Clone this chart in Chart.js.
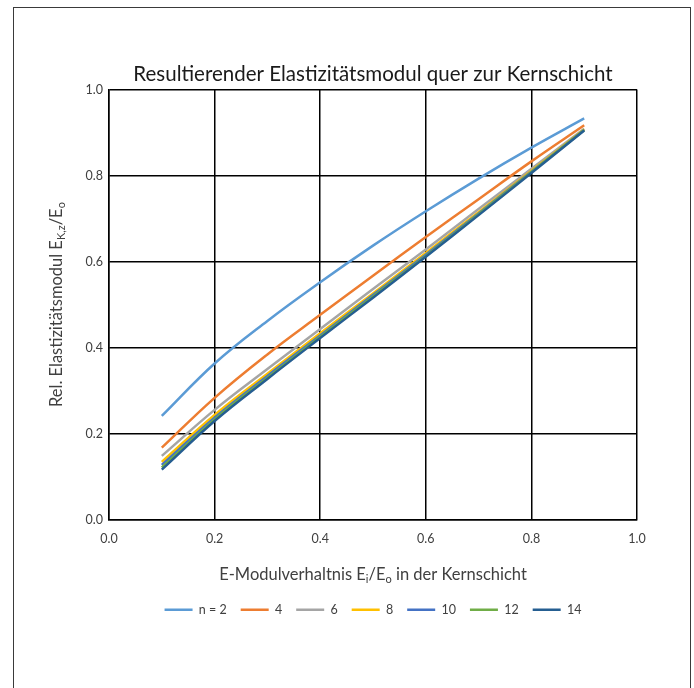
<!DOCTYPE html>
<html>
<head>
<meta charset="utf-8">
<script src="https://cdn.jsdelivr.net/npm/chart.js@4.4.0/dist/chart.umd.min.js"></script>
<style>
  html, body { margin: 0; padding: 0; background: #fff; }
  #wrap { width: 694px; height: 688px; position: relative; }
</style>
</head>
<body>
<div id="wrap"><canvas id="chart" width="694" height="688"></canvas></div>
<script>
  // E-Modulverhaeltnis Ei/Eo (x) and relative modulus per layer count n
  const ratios = [0.1, 0.2, 0.3, 0.4, 0.5, 0.6, 0.7, 0.8, 0.9];
  const n2  = [0.241, 0.363, 0.462, 0.552, 0.637, 0.717, 0.793, 0.865, 0.933];
  const n4  = [0.167, 0.283, 0.384, 0.476, 0.567, 0.657, 0.745, 0.833, 0.917];
  const n6  = [0.148, 0.255, 0.350, 0.443, 0.536, 0.628, 0.722, 0.816, 0.909];
  const n8  = [0.134, 0.243, 0.339, 0.433, 0.526, 0.620, 0.715, 0.811, 0.907];
  const n10 = [0.127, 0.237, 0.334, 0.428, 0.522, 0.616, 0.712, 0.809, 0.906];
  const n12 = [0.121, 0.233, 0.330, 0.425, 0.519, 0.613, 0.710, 0.808, 0.906];
  const n14 = [0.116, 0.229, 0.327, 0.422, 0.516, 0.611, 0.708, 0.806, 0.905];

  const seriesLabels = ['n = 2', '4', '6', '8', '10', '12', '14'];
  const seriesValues = [n2, n4, n6, n8, n10, n12, n14];
  const seriesColors = ['#5B9BD5', '#ED7D31', '#A5A5A5', '#FFC000', '#4472C4', '#70AD47', '#255E91'];

  const axisTicks = [0.0, 0.2, 0.4, 0.6, 0.8, 1.0];

  const fontFamily = 'Lato, "Open Sans", sans-serif';
  const textGrey = '#404040';

  const datasets = seriesValues.map((vals, i) => ({
    label: seriesLabels[i],
    data: ratios.map((x, j) => ({ x: x, y: vals[j] })),
    borderColor: seriesColors[i],
    backgroundColor: seriesColors[i],
    borderWidth: 2.5,
    pointRadius: 0,
    tension: 0.4,
    order: -i   // later series drawn on top, like Excel
  }));

  // draws text with subscript parts, centred on (cx, cy)
  function drawRichText(ctx, parts, cx, cy, size, rotate) {
    ctx.save();
    ctx.translate(cx, cy);
    if (rotate) ctx.rotate(-Math.PI / 2);
    const subSize = Math.round(size * 0.68);
    let total = 0;
    parts.forEach(p => {
      ctx.font = (p.sub ? subSize : size) + 'px ' + fontFamily;
      p.w = ctx.measureText(p.t).width;
      total += p.w;
    });
    let x = -total / 2;
    ctx.fillStyle = textGrey;
    ctx.textBaseline = 'middle';
    ctx.textAlign = 'left';
    parts.forEach(p => {
      ctx.font = (p.sub ? subSize : size) + 'px ' + fontFamily;
      ctx.fillText(p.t, x, p.sub ? size * 0.3 : 0);
      x += p.w;
    });
    ctx.restore();
  }

  const framePlugin = {
    id: 'frameAndTitles',
    beforeDraw(chart) {
      const ctx = chart.ctx;
      ctx.save();
      ctx.fillStyle = '#fff';
      ctx.fillRect(0, 0, chart.width, chart.height);
      ctx.strokeStyle = '#3a3a3a';
      ctx.lineWidth = 1;
      ctx.strokeRect(13.5, 7.5, 677, 700);
      ctx.restore();
    },
    afterDraw(chart) {
      const a = chart.chartArea;
      const ctx = chart.ctx;
      drawRichText(ctx, [
        { t: 'Rel. Elastizitätsmodul E' }, { t: 'K,z', sub: true }, { t: '/E' }, { t: 'o', sub: true }
      ], a.left - 52, (a.top + a.bottom) / 2, 16.5, true);
      drawRichText(ctx, [
        { t: 'E-Modulverhaltnis E' }, { t: 'i', sub: true }, { t: '/E' }, { t: 'o', sub: true },
        { t: ' in der Kernschicht' }
      ], (a.left + a.right) / 2, a.bottom + 55, 16.5, false);
    }
  };

  const gridStyle = { color: '#000', lineWidth: 1.5, drawTicks: false };

  new Chart(document.getElementById('chart'), {
    type: 'line',
    data: { datasets: datasets },
    options: {
      responsive: false,
      animation: false,
      layout: { padding: { left: 14, right: 57, top: 0, bottom: 62 } },
      scales: {
        x: {
          type: 'linear', min: 0, max: 1,
          afterBuildTicks: s => { s.ticks = axisTicks.map(v => ({ value: v })); },
          afterFit: s => { s.height = 70; },
          grid: gridStyle,
          border: { color: '#000', width: 1.5 },
          ticks: { padding: 12, color: textGrey, font: { family: fontFamily, size: 12.5 },
                   callback: v => v.toFixed(1), maxRotation: 0 }
        },
        y: {
          type: 'linear', min: 0, max: 1,
          afterBuildTicks: s => { s.ticks = axisTicks.map(v => ({ value: v })); },
          afterFit: s => { s.width = 95; },
          grid: gridStyle,
          border: { color: '#000', width: 1.5 },
          ticks: { padding: 6, color: textGrey, font: { family: fontFamily, size: 12.5 },
                   callback: v => v.toFixed(1) }
        }
      },
      plugins: {
        title: {
          display: true,
          fullSize: false,
          text: 'Resultierender Elastizitätsmodul quer zur Kernschicht',
          color: '#1a1a1a',
          font: { family: fontFamily, size: 20.5, weight: 'normal' },
          padding: { top: 62, bottom: 3 }
        },
        legend: {
          position: 'bottom',
          fullSize: false,
          labels: {
            usePointStyle: true,
            pointStyle: 'line',
            pointStyleWidth: 28,
            padding: 14,
            color: textGrey,
            font: { family: fontFamily, size: 12.5 },
            sort: (a, b) => a.datasetIndex - b.datasetIndex
          }
        },
        tooltip: { enabled: false }
      }
    },
    plugins: [framePlugin]
  });
</script>
</body>
</html>
